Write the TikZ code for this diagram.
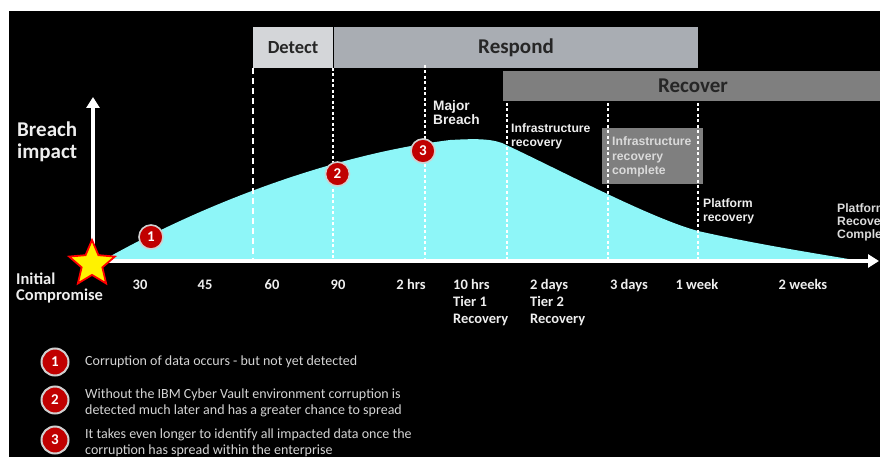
\documentclass[tikz,border=0pt]{standalone}
\usepackage{fontspec}
\setmainfont{Carlito}
\newfontfamily\labfont{Liberation Sans}
\usetikzlibrary{shapes.geometric,arrows.meta}

\definecolor{detectgray}{HTML}{D4D6D9}
\definecolor{respondgray}{HTML}{A9ADB3}
\definecolor{recovergray}{HTML}{7F7F7F}
\definecolor{phasetext}{HTML}{262626}
\definecolor{impactcyan}{HTML}{8EF6F8}
\definecolor{badgered}{HTML}{C00000}
\definecolor{badgerim}{HTML}{D0D0D0}
\definecolor{softwhite}{HTML}{EEEEEE}
\definecolor{legendtext}{HTML}{D4D4D4}
\definecolor{boxtext}{HTML}{DADADA}

\tikzset{
  phase/.style={inner sep=0pt, text=phasetext, font=\fontsize{21}{22}\selectfont\bfseries},
  tick/.style={inner sep=0pt, text=softwhite, align=left, font=\fontsize{14.5}{17}\selectfont\bfseries},
  event/.style={inner sep=0pt, text=softwhite, align=left, font=\labfont\fontsize{12.2}{14.5}\selectfont\bfseries},
  badge/.style={circle, fill=badgered, draw=badgerim, line width=1.6pt, minimum size=24pt, inner sep=0pt,
    text=white, font=\fontsize{15}{15}\selectfont\bfseries},
  legendbadge/.style={badge, minimum size=27pt, line width=2pt},
  legendtxt/.style={inner sep=0pt, text=legendtext, align=left, font=\fontsize{14}{16}\selectfont},
  axis/.style={draw=white, line width=3.5pt, -{Triangle[width=13pt,length=11pt]}},
  guide/.style={draw=white, line width=1.3pt, dash pattern=on 6pt off 4pt},
  guidefine/.style={draw=white, line width=1.3pt, dash pattern=on 3pt off 2.5pt},
}

\begin{document}
\begin{tikzpicture}[x=1pt,y=-1pt]
\useasboundingbox (0,0) rectangle (880,457);
\clip (0,0) rectangle (880,457);
\fill[white] (0,0) rectangle (880,457);
\fill[black] (9,11) rectangle (880,457);

% phase bars
\node[phase, fill=detectgray, minimum width=80pt, minimum height=41pt,
  font=\fontsize{18.5}{20}\selectfont\bfseries] (detect) at (293,47.5) {Detect};
\node[phase, fill=respondgray, minimum width=364pt, minimum height=41pt] (respond) at (516,47.5) {Respond};
\node[phase, fill=recovergray, minimum width=380pt, minimum height=30pt] (recover) at (693,86) {};
\node[phase] (recoverlabel) at (693,86) {Recover};

% breach impact area
\fill[impactcyan] (100,262) .. controls (200,205) and (330,155) .. (450,140)
  .. controls (470,139) and (488,138) .. (502,143)
  .. controls (560,170) and (650,218) .. (698,231)
  .. controls (760,245) and (820,254) .. (866,262) -- cycle;

% infrastructure recovery complete box
\node[fill=recovergray, minimum width=101pt, minimum height=56pt, inner sep=0pt] (infrabox) at (652.5,156) {};
\node[event, text=boxtext, anchor=base west] (infradone) at (612,175) {Infrastructure\\recovery\\complete};

% time markers
\draw[guide] (253,68) -- (253,261);
\draw[guidefine] (333,68) -- (333,261);
\draw[guidefine] (425,65) -- (425,261);
\draw[guidefine] (507,103) -- (507,261);
\draw[guidefine] (608,103) -- (608,261);
\draw[guidefine] (698,103) -- (698,261);

% axes
\coordinate (origin) at (93,261);
\coordinate (ytip) at (93,97);
\coordinate (xtip) at (879,261);
\draw[axis] (origin) -- (ytip);
\draw[axis] (origin) -- (xtip);
\node[star, star points=5, star point ratio=2.2, minimum size=48pt, inner sep=0pt,
  fill=yellow, draw=red, line width=1.8pt] (star) at (92,264) {};

% numbered events on the curve
\node[badge] (b1) at (151,237) {1};
\node[badge] (b2) at (337.5,174) {2};
\node[badge] (b3) at (423,151) {3};

% labels (anchored on the baseline of their last line)
\node[inner sep=0pt, text=softwhite, align=left, anchor=base west,
  font=\fontsize{21}{22}\selectfont\bfseries] (impact) at (17,159) {Breach\\impact};
\node[tick, font=\fontsize{16.5}{15.5}\selectfont\bfseries, anchor=base west] (initial) at (16,300) {Initial\\Compromise};
\node[event, font=\labfont\fontsize{13.7}{14}\selectfont\bfseries, anchor=base west] (major) at (433,125) {Major\\Breach};
\node[event, anchor=base west] (infra) at (511,147) {Infrastructure\\recovery};
\node[event, anchor=base west] (platform) at (703,222) {Platform\\recovery};
\node[event, text=boxtext, font=\labfont\fontsize{12.2}{13}\selectfont\bfseries, anchor=base west]
  (platformdone) at (837,238) {Platform\\Recovery\\Complete};

% time axis labels
\node[tick, anchor=base] (t30) at (140,289) {30};
\node[tick, anchor=base] (t45) at (205,289) {45};
\node[tick, anchor=base] (t60) at (272,289) {60};
\node[tick, anchor=base] (t90) at (338,289) {90};
\node[tick, anchor=base] (t2h) at (411,289) {2 hrs};
\node[tick, anchor=base west] (t10h) at (453,323) {10 hrs\\Tier 1\\Recovery};
\node[tick, anchor=base west] (t2d) at (530,323) {2 days\\Tier 2\\Recovery};
\node[tick, anchor=base] (t3d) at (629,289) {3 days};
\node[tick, anchor=base] (t1w) at (697,289) {1 week};
\node[tick, anchor=base] (t2w) at (803,289) {2 weeks};

% legend
\node[legendbadge] (l1) at (55,362) {1};
\node[legendbadge] (l2) at (55,400) {2};
\node[legendbadge] (l3) at (55,440) {3};
\node[legendtxt, anchor=base west] (lt1) at (85,365) {Corruption of data occurs - but not yet detected};
\node[legendtxt, anchor=base west] (lt2) at (85,414) {Without the IBM Cyber Vault environment corruption is\\detected much later and has a greater chance to spread};
\node[legendtxt, anchor=base west] (lt3) at (85,454) {It takes even longer to identify all impacted data once the\\corruption has spread within the enterprise};
\end{tikzpicture}
\end{document}
